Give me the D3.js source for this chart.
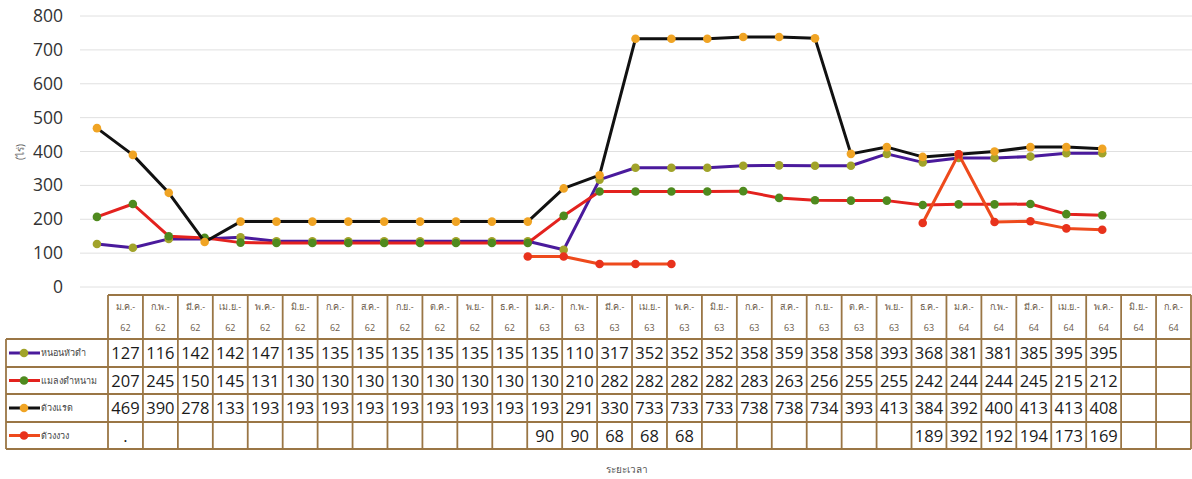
<!DOCTYPE html>
<html><head><meta charset="utf-8">
<script src="https://cdn.jsdelivr.net/npm/d3@7"></script>
<style>body{margin:0;background:#fff;}svg{display:block;font-family:"Open Sans","Noto Sans","DejaVu Sans",sans-serif;}</style>
</head><body>
<svg id="c" width="1192" height="479"></svg>
<script>
const months = ["ม.ค.-","ก.พ.-","มี.ค.-","เม.ย.-","พ.ค.-","มิ.ย.-","ก.ค.-","ส.ค.-","ก.ย.-","ต.ค.-","พ.ย.-","ธ.ค.-",
"ม.ค.-","ก.พ.-","มี.ค.-","เม.ย.-","พ.ค.-","มิ.ย.-","ก.ค.-","ส.ค.-","ก.ย.-","ต.ค.-","พ.ย.-","ธ.ค.-",
"ม.ค.-","ก.พ.-","มี.ค.-","เม.ย.-","พ.ค.-","มิ.ย.-","ก.ค.-"];
const years = ["62","62","62","62","62","62","62","62","62","62","62","62",
"63","63","63","63","63","63","63","63","63","63","63","63",
"64","64","64","64","64","64","64"];
const seriesNames = ["หนอนหัวดำ","แมลงดำหนาม","ด้วงแรด","ด้วงงวง"];
const blackHeadedWorm = [127,116,142,142,147,135,135,135,135,135,135,135,135,110,317,352,352,352,358,359,358,358,393,368,381,381,385,395,395,null,null];
const coconutHispine = [207,245,150,145,131,130,130,130,130,130,130,130,130,210,282,282,282,282,283,263,256,255,255,242,244,244,245,215,212,null,null];
const rhinoBeetle = [469,390,278,133,193,193,193,193,193,193,193,193,193,291,330,733,733,733,738,738,734,393,413,384,392,400,413,413,408,null,null];
const weevil = [null,null,null,null,null,null,null,null,null,null,null,null,90,90,68,68,68,null,null,null,null,null,null,189,392,192,194,173,169,null,null];
const weevilFirstCellText = ".";
const yTicks = [0,100,200,300,400,500,600,700,800];
const yLabel = "(ไร่)";
const xTitle = "ระยะเวลา";

const seriesData = [blackHeadedWorm, coconutHispine, rhinoBeetle, weevil];
const lineColors = ["#4a1a9c","#e3221e","#111111","#ee4a1c"];
const markerColors = ["#a1a32a","#4f8a1e","#f0a424","#e8321c"];

const svg = d3.select("#c");
const idx = d3.range(months.length);
const x = d3.scaleBand().domain(idx).range([79,1192]);
const y = d3.scaleLinear().domain([0,800]).range([287,16]);

// gridlines
svg.append("g").selectAll("line").data(yTicks).join("line")
  .attr("x1",80).attr("x2",1192).attr("y1",d=>y(d)).attr("y2",d=>y(d))
  .attr("stroke","#e0e0e0").attr("stroke-width",1);

// y axis labels
const yAxis = svg.append("g").attr("transform","translate(65,0)")
  .call(d3.axisLeft(y).tickValues(yTicks).tickSize(0).tickPadding(2));
yAxis.select(".domain").remove();
yAxis.selectAll("text").attr("font-size",17.5).attr("font-weight",500).attr("fill","#333")
  .attr("font-family","'Open Sans',sans-serif");

svg.append("text").attr("transform","translate(24,152) rotate(-90)")
  .attr("text-anchor","middle").attr("font-size",10).attr("fill","#666").text(yLabel);

// lines
seriesData.forEach((s,k)=>{
  const line = d3.line().defined(d=>d!=null).x((d,i)=>x(i)+x.bandwidth()/2).y(d=>y(d));
  svg.append("path").datum(s).attr("d",line).attr("fill","none")
    .attr("stroke",lineColors[k]).attr("stroke-width",3).attr("stroke-linejoin","round");
  svg.append("g").selectAll("circle").data(s.map((v,i)=>({v,i})).filter(d=>d.v!=null)).join("circle")
    .attr("cx",d=>x(d.i)+x.bandwidth()/2).attr("cy",d=>y(d.v)).attr("r",4.3)
    .attr("fill",markerColors[k]);
});

// table
const tx = d3.scaleBand().domain(idx).range([108,1191]);
const border = "#9a7645";
const headTop = 295, headBot = 339;
const rowEdges = [339,367,394,422,449];
const tg = svg.append("g");
idx.forEach(i=>{
  tg.append("text").attr("x",tx(i)+tx.bandwidth()/2).attr("y",310).attr("text-anchor","middle")
    .attr("font-size",9).attr("fill","#6a5a4a").text(months[i]);
  tg.append("text").attr("x",tx(i)+tx.bandwidth()/2).attr("y",331).attr("text-anchor","middle")
    .attr("font-size",9).attr("fill","#6a5a4a").text(years[i]);
});
tg.append("line").attr("x1",108).attr("x2",1191).attr("y1",headTop).attr("y2",headTop).attr("stroke",border).attr("stroke-width",1.8);
rowEdges.forEach(yy=>{
  tg.append("line").attr("x1",6).attr("x2",1191).attr("y1",yy).attr("y2",yy).attr("stroke",border).attr("stroke-width",1.8);
});
idx.concat([months.length]).forEach(i=>{
  const xx = i<months.length ? tx(i) : 1191;
  tg.append("line").attr("x1",xx).attr("x2",xx).attr("y1",headTop).attr("y2",449).attr("stroke",border).attr("stroke-width",1.8);
});
tg.append("line").attr("x1",6).attr("x2",6).attr("y1",339).attr("y2",449).attr("stroke",border).attr("stroke-width",1.8);

seriesData.forEach((s,k)=>{
  const cy = (rowEdges[k]+rowEdges[k+1])/2;
  tg.append("line").attr("x1",9).attr("x2",40).attr("y1",cy).attr("y2",cy).attr("stroke",lineColors[k]).attr("stroke-width",3);
  tg.append("circle").attr("cx",24).attr("cy",cy).attr("r",4.3).attr("fill",markerColors[k]);
  tg.append("text").attr("x",41).attr("y",cy+3).attr("font-size",9).attr("fill","#444").text(seriesNames[k]);
  s.forEach((v,i)=>{
    let t = v==null ? "" : String(v);
    if(k===3 && i===0) t = weevilFirstCellText;
    tg.append("text").attr("x",tx(i)+tx.bandwidth()/2).attr("y",cy+6).attr("text-anchor","middle")
      .attr("font-size",16.5).attr("font-weight",500).attr("fill","#1a1a1a").text(t);
  });
});

svg.append("text").attr("x",627).attr("y",473).attr("text-anchor","middle")
  .attr("font-size",10).attr("fill","#555").text(xTitle);
</script>
</body></html>
